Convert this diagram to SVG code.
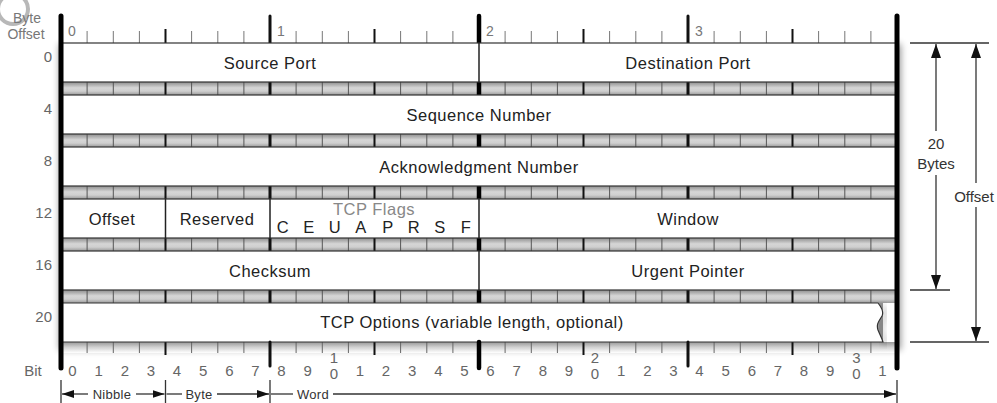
<svg xmlns="http://www.w3.org/2000/svg" xmlns:xlink="http://www.w3.org/1999/xlink" width="997" height="403" viewBox="0 0 997 403">
  <style>
    text { font-family: "Liberation Sans", Arial, sans-serif; }
    .field { font-size: 16.5px; fill: #222; letter-spacing: 0.5px; text-anchor: middle; }
    .flags { font-size: 16.5px; fill: #888; letter-spacing: 0.5px; text-anchor: middle; }
    .rowlbl { font-size: 15px; fill: #666; text-anchor: end; }
    .bitnum { font-size: 15px; fill: #666; text-anchor: middle; }
    .ruler { font-size: 14px; fill: #777; }
    .side { font-size: 15px; fill: #333; text-anchor: middle; }
    .unit { font-size: 13px; fill: #333; text-anchor: middle; letter-spacing: 0.3px; }
    .box { fill: #fff; stroke: #333; stroke-width: 1.2; }
    .div { stroke: #222; stroke-width: 1.5; }
    .thin { stroke: #777; stroke-width: 1; fill: none; }
    .nib { stroke: #111; stroke-width: 2; }
    .byte { stroke: #111; stroke-width: 3; stroke-linecap: round; }
    .half { stroke: #000; stroke-width: 4.5; stroke-linecap: round; }
    .edge { stroke: #000; stroke-width: 5; stroke-linecap: round; }
    .dim { stroke: #333; stroke-width: 1.3; fill: none; }
  </style>
  <defs>
    <linearGradient id="bandGrad" x1="0" y1="0" x2="0" y2="1">
      <stop offset="0" stop-color="#8e8e8e"/>
      <stop offset="0.45" stop-color="#d6d6d6"/>
      <stop offset="0.7" stop-color="#cfcfcf"/>
      <stop offset="1" stop-color="#999"/>
    </linearGradient>
    <linearGradient id="fadeGrad" x1="0" y1="0" x2="0" y2="1">
      <stop offset="0" stop-color="#999"/>
      <stop offset="0.5" stop-color="#d4d4d4"/>
      <stop offset="1" stop-color="#fff"/>
    </linearGradient>
    <filter id="soft" x="-5%" y="-10%" width="110%" height="120%">
      <feGaussianBlur stdDeviation="3.5"/>
    </filter>
    <marker id="arrowV" markerUnits="userSpaceOnUse" markerWidth="14" markerHeight="10" refX="14" refY="5" orient="auto">
      <path d="M0,0 L14,5 L0,10 Z" fill="#111"/>
    </marker>
    <marker id="arrowH" markerUnits="userSpaceOnUse" markerWidth="12" markerHeight="8" refX="12" refY="4" orient="auto">
      <path d="M0,0 L12,4 L0,8 Z" fill="#111"/>
    </marker>
    <!-- bit tick positions that are not nibble/byte boundaries -->
    <path id="bitTicks" d="M87.1 0V13M113.3 0V13M139.4 0V13M191.6 0V13M217.8 0V13M243.9 0V13M296.1 0V13M322.3 0V13M348.4 0V13M400.6 0V13M426.8 0V13M452.9 0V13M505.1 0V13M531.3 0V13M557.4 0V13M609.6 0V13M635.8 0V13M661.9 0V13M714.1 0V13M740.3 0V13M766.4 0V13M818.6 0V13M844.8 0V13M870.9 0V13"/>
    <!-- shaded separator strip between rows -->
    <g id="band">
      <rect x="61" y="0" width="836" height="13" fill="url(#bandGrad)"/>
      <use xlink:href="#bitTicks" stroke="#555" stroke-width="1"/>
      <path class="nib" d="M165.5 0V13M374.5 0V13M583.5 0V13M792.5 0V13"/>
      <path stroke="#111" stroke-width="3" d="M270 0V13M688 0V13"/>
      <path stroke="#000" stroke-width="4.5" d="M479 0V13"/>
    </g>
  </defs>

  <!-- spinner ring in the corner -->
  <circle cx="13" cy="9" r="15" fill="none" stroke="#b8b8b8" stroke-width="4"/>

  <!-- soft shadow under the header table -->
  <rect x="59" y="44" width="842" height="306" fill="#000" opacity="0.4" filter="url(#soft)"/>

  <!-- column header -->
  <g id="header">
    <text class="ruler" x="27" y="23" text-anchor="middle" font-size="11">Byte</text>
    <text class="ruler" x="26" y="39" text-anchor="middle" font-size="11.5">Offset</text>
    <rect x="61" y="14" width="836" height="29" fill="#fff"/>
    <path class="thin" d="M87.1 31V43M113.3 31V43M139.4 31V43M191.6 31V43M217.8 31V43M243.9 31V43M296.1 31V43M322.3 31V43M348.4 31V43M400.6 31V43M426.8 31V43M452.9 31V43M505.1 31V43M531.3 31V43M557.4 31V43M609.6 31V43M635.8 31V43M661.9 31V43M714.1 31V43M740.3 31V43M766.4 31V43M818.6 31V43M844.8 31V43M870.9 31V43"/>
    <path class="nib" d="M165.5 29V43M374.5 29V43M583.5 29V43M792.5 29V43"/>
    <path class="byte" d="M270 16V43M688 16V43"/>
    <path class="half" d="M479 16V43"/>
    <text class="ruler" x="68" y="36">0</text>
    <text class="ruler" x="277" y="36">1</text>
    <text class="ruler" x="486" y="36">2</text>
    <text class="ruler" x="695" y="36">3</text>
  </g>

  <!-- byte offset labels -->
  <g id="offsets">
    <text class="rowlbl" x="52" y="62">0</text>
    <text class="rowlbl" x="52" y="114">4</text>
    <text class="rowlbl" x="52" y="166">8</text>
    <text class="rowlbl" x="52" y="218">12</text>
    <text class="rowlbl" x="52" y="270">16</text>
    <text class="rowlbl" x="52" y="322">20</text>
  </g>

  <!-- separator strips -->
  <g id="bands">
    <use xlink:href="#band" y="82"/>
    <use xlink:href="#band" y="134"/>
    <use xlink:href="#band" y="186"/>
    <use xlink:href="#band" y="238"/>
    <use xlink:href="#band" y="290"/>
    <!-- bottom strip fades out into the bit ruler -->
    <rect x="61" y="342" width="836" height="11" fill="url(#fadeGrad)"/>
    <use xlink:href="#bitTicks" y="342" transform="translate(0,0)" stroke="#666" stroke-width="1" stroke-dasharray="11 20"/>
    <path class="nib" d="M165.5 342V355M374.5 342V355M583.5 342V355M792.5 342V355"/>
  </g>

  <g id="row0">
    <rect class="box" x="61" y="43" width="836" height="39"/>
    <line class="div" x1="479" y1="43" x2="479" y2="82"/>
    <text class="field" x="270" y="68.5">Source Port</text>
    <text class="field" x="688" y="68.5">Destination Port</text>
  </g>

  <g id="row4">
    <rect class="box" x="61" y="95" width="836" height="39"/>
    <text class="field" x="479" y="120.5">Sequence Number</text>
  </g>

  <g id="row8">
    <rect class="box" x="61" y="147" width="836" height="39"/>
    <text class="field" x="479" y="172.5">Acknowledgment Number</text>
  </g>

  <g id="row12">
    <rect class="box" x="61" y="199" width="836" height="39"/>
    <path class="div" d="M165.5 199V238M270 199V238M479 199V238"/>
    <text class="field" x="112" y="225">Offset</text>
    <text class="field" x="217" y="225">Reserved</text>
    <text class="flags" x="374" y="215">TCP Flags</text>
    <text class="field" x="283" y="233">C</text>
    <text class="field" x="309" y="233">E</text>
    <text class="field" x="335" y="233">U</text>
    <text class="field" x="361" y="233">A</text>
    <text class="field" x="388" y="233">P</text>
    <text class="field" x="414" y="233">R</text>
    <text class="field" x="440" y="233">S</text>
    <text class="field" x="466" y="233">F</text>
    <text class="field" x="688" y="224.5">Window</text>
  </g>

  <g id="row16">
    <rect class="box" x="61" y="251" width="836" height="39"/>
    <line class="div" x1="479" y1="251" x2="479" y2="290"/>
    <text class="field" x="270" y="276.5">Checksum</text>
    <text class="field" x="688" y="276.5">Urgent Pointer</text>
  </g>

  <g id="row20">
    <rect x="883" y="303" width="14" height="39" fill="#fff"/>
    <path d="M880,305 C885,310 887,314 885,318 C882,323 879,326 881,332 C883,337 885,340 886,345" fill="none" stroke="#000" stroke-width="3" opacity="0.35" filter="url(#soft)"/>
    <path class="box" d="M61,303 H878 C882,308 884,312 882,316 C879,321 876,324 878,330 C880,335 882,338 883,342 H61 Z"/>
    <text class="field" x="472" y="328">TCP Options (variable length, optional)</text>
  </g>

  <!-- bit ruler underneath -->
  <g id="footer">
    <path class="byte" d="M270 342V366M688 342V366"/>
    <path class="half" d="M479 342V368"/>
    <text class="bitnum" x="33" y="376">Bit</text>
    <text class="bitnum" x="72.5" y="376">0</text>
    <text class="bitnum" x="98.6" y="376">1</text>
    <text class="bitnum" x="124.8" y="376">2</text>
    <text class="bitnum" x="150.9" y="376">3</text>
    <text class="bitnum" x="177" y="376">4</text>
    <text class="bitnum" x="203.1" y="376">5</text>
    <text class="bitnum" x="229.3" y="376">6</text>
    <text class="bitnum" x="255.4" y="376">7</text>
    <text class="bitnum" x="281.5" y="376">8</text>
    <text class="bitnum" x="307.6" y="376">9</text>
    <text class="bitnum" x="333.8" y="363">1</text>
    <text class="bitnum" x="333.8" y="379">0</text>
    <text class="bitnum" x="359.9" y="376">1</text>
    <text class="bitnum" x="386" y="376">2</text>
    <text class="bitnum" x="412.1" y="376">3</text>
    <text class="bitnum" x="438.3" y="376">4</text>
    <text class="bitnum" x="464.4" y="376">5</text>
    <text class="bitnum" x="490.5" y="376">6</text>
    <text class="bitnum" x="516.6" y="376">7</text>
    <text class="bitnum" x="542.8" y="376">8</text>
    <text class="bitnum" x="568.9" y="376">9</text>
    <text class="bitnum" x="595" y="363">2</text>
    <text class="bitnum" x="595" y="379">0</text>
    <text class="bitnum" x="621.1" y="376">1</text>
    <text class="bitnum" x="647.3" y="376">2</text>
    <text class="bitnum" x="673.4" y="376">3</text>
    <text class="bitnum" x="699.5" y="376">4</text>
    <text class="bitnum" x="725.6" y="376">5</text>
    <text class="bitnum" x="751.8" y="376">6</text>
    <text class="bitnum" x="777.9" y="376">7</text>
    <text class="bitnum" x="804" y="376">8</text>
    <text class="bitnum" x="830.1" y="376">9</text>
    <text class="bitnum" x="856.3" y="363">3</text>
    <text class="bitnum" x="856.3" y="379">0</text>
    <text class="bitnum" x="882.4" y="376">1</text>
  </g>

  <!-- outer frame rails -->
  <path class="edge" d="M61 16V368M897 16V368"/>

  <!-- dimension connectors -->
  <g id="connectors">
    <path class="dim" d="M61 380V403M165.5 380V403M270 380V403M897 380V403"/>
    <line class="dim" x1="88" y1="394" x2="62" y2="394" marker-end="url(#arrowH)"/>
    <line class="dim" x1="136" y1="394" x2="164.5" y2="394" marker-end="url(#arrowH)"/>
    <line class="dim" x1="166.5" y1="394" x2="182" y2="394"/>
    <line class="dim" x1="217" y1="394" x2="269" y2="394" marker-end="url(#arrowH)"/>
    <line class="dim" x1="271" y1="394" x2="293" y2="394"/>
    <line class="dim" x1="333" y1="394" x2="896" y2="394" marker-end="url(#arrowH)"/>

    <path class="dim" d="M910 43H989M910 290H950M910 342H989"/>
    <line class="dim" x1="936" y1="131" x2="936" y2="44" marker-end="url(#arrowV)"/>
    <line class="dim" x1="936" y1="175" x2="936" y2="289" marker-end="url(#arrowV)"/>
    <line class="dim" x1="976" y1="183" x2="976" y2="44" marker-end="url(#arrowV)"/>
    <line class="dim" x1="976" y1="207" x2="976" y2="341" marker-end="url(#arrowV)"/>
  </g>

  <g id="labels">
    <text class="unit" x="112" y="399">Nibble</text>
    <text class="unit" x="199" y="399">Byte</text>
    <text class="unit" x="313" y="399">Word</text>
    <text class="side" x="936" y="149">20</text>
    <text class="side" x="936" y="169">Bytes</text>
    <text class="side" x="974" y="202" fill="#444">Offset</text>
  </g>
</svg>
